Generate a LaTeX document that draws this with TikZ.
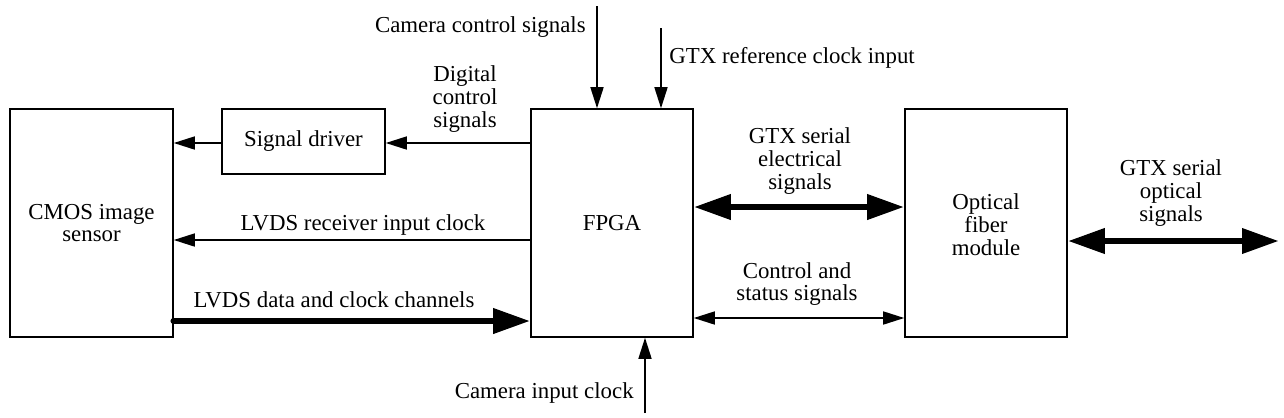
\documentclass[tikz,border=0pt]{standalone}
\usepackage{fontspec}
\setmainfont{Liberation Serif}
\usepackage{tikz}
\usetikzlibrary{arrows.meta}

\tikzset{
  blok/.style={draw,line width=0.9pt,minimum height=4.56cm},
  tnk/.style={line width=0.9pt,-{Triangle[length=0.42cm,width=0.26cm]}},
  tnkdbl/.style={line width=0.9pt,{Triangle[length=0.42cm,width=0.26cm]}-{Triangle[length=0.42cm,width=0.26cm]}},
  tolst/.style={line width=3.8pt,line cap=round,-{Triangle[length=0.74cm,width=0.48cm]}},
  tolstdbl/.style={line width=3.8pt,{Triangle[length=0.74cm,width=0.48cm]}-{Triangle[length=0.74cm,width=0.48cm]}},
  txt/.style={inner sep=0pt,align=center}
}

\begin{document}
\begin{tikzpicture}[x=0.02cm,y=-0.02cm,font=\fontsize{13}{13}\selectfont]
\useasboundingbox (0,0) rectangle (1284,417);
%Блоки
\node[blok,minimum width=3.26cm] (cmos) at (91.5,223) {};
\node[txt] at (91.5,223) {CMOS image\\sensor};
\node[draw,line width=0.9pt,minimum width=3.26cm,minimum height=1.3cm] (drv) at (303.5,141.5) {Signal driver};
\node[blok,minimum width=3.24cm] (fpga) at (612,223) {FPGA};
\node[blok,minimum width=3.24cm] (opt) at (986,223) {};
\node[txt] at (986,225) {Optical\\fiber\\module};
%Уровни линий
\coordinate (dcs) at (0,143);
\coordinate (rx) at (0,240);
\coordinate (dat) at (0,321);
\coordinate (el) at (0,207);
\coordinate (cs) at (0,318);
\coordinate (op) at (0,241);
\coordinate (camc) at (597,6);
\coordinate (gtxc) at (661,28);
\coordinate (cami) at (645,413);
\coordinate (opend) at (1279,241);
%Стрелки слева
\draw[tnk] (fpga.west |- dcs) -- (drv.east |- dcs);
\draw[tnk] (drv.west |- dcs) -- (cmos.east |- dcs);
\draw[tnk] (fpga.west |- rx) -- (cmos.east |- rx);
\draw[tolst] (cmos.east |- dat) -- (fpga.west |- dat);
%Сверху и снизу
\draw[tnk] (camc) -- (camc |- fpga.north);
\draw[tnk] (gtxc) -- (gtxc |- fpga.north);
\draw[tnk] (cami) -- (cami |- fpga.south);
%Справа
\draw[tolstdbl] (fpga.east |- el) -- (opt.west |- el);
\draw[tnkdbl] (fpga.east |- cs) -- (opt.west |- cs);
\draw[tolstdbl] (opt.east |- op) -- (opend);
%Подписи
\node[txt,anchor=east] (lcamc) at (586,27) {Camera control signals};
\node[txt,anchor=west] (lgtxc) at (669,58) {GTX reference clock input};
\node[txt] (ldcs) at (465,99) {Digital\\control\\signals};
\node[txt] (lrx) at (363,225) {LVDS receiver input clock};
\node[txt] (ldat) at (334,300) {LVDS data and clock channels};
\node[txt,anchor=east] (lcami) at (634,393) {Camera input clock};
\node[txt] (lel) at (800,161) {GTX serial\\electrical\\signals};
\node[txt] (lcs) at (797,284) {Control and\\status signals};
\node[txt] (lop) at (1171,193) {GTX serial\\optical\\signals};
\end{tikzpicture}
\end{document}
